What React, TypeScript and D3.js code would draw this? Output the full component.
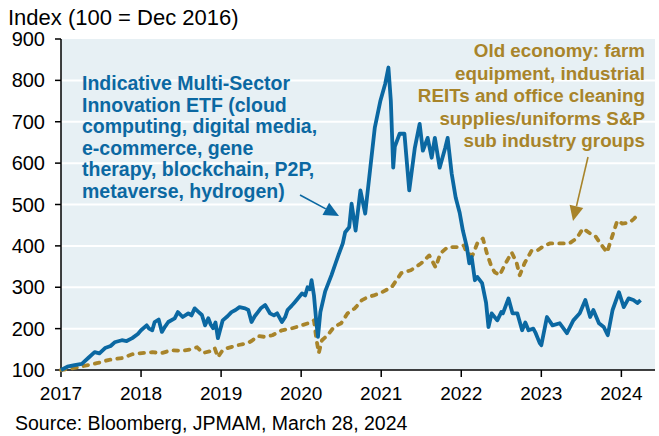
import React from "react";
import * as d3 from "d3";

// ---- data (decimal year, index value) ----
const innovYears = [
  2017.0, 2017.08, 2017.17, 2017.26, 2017.34, 2017.42, 2017.48, 2017.55, 2017.62, 2017.67, 2017.76, 2017.82, 2017.89, 2017.96,
  2018.0, 2018.07, 2018.1, 2018.14, 2018.17, 2018.22, 2018.26, 2018.3, 2018.34, 2018.42, 2018.46, 2018.52, 2018.59, 2018.63,
  2018.67, 2018.72, 2018.76, 2018.8, 2018.84, 2018.87, 2018.9, 2018.93, 2018.96, 2019.02, 2019.08, 2019.13, 2019.18, 2019.23,
  2019.3, 2019.34, 2019.38, 2019.42, 2019.46, 2019.5, 2019.55, 2019.61, 2019.66, 2019.7, 2019.76, 2019.8, 2019.83, 2019.88,
  2019.92, 2020.01, 2020.05, 2020.08, 2020.11, 2020.13, 2020.16, 2020.19, 2020.21, 2020.24, 2020.3, 2020.34, 2020.38, 2020.43,
  2020.47, 2020.52, 2020.55, 2020.6, 2020.63, 2020.68, 2020.74, 2020.8, 2020.86, 2020.92, 2020.99, 2021.05, 2021.09, 2021.12,
  2021.15, 2021.17, 2021.23, 2021.29, 2021.35, 2021.42, 2021.48, 2021.52, 2021.58, 2021.63, 2021.67, 2021.73, 2021.8, 2021.83,
  2021.88, 2021.93, 2021.98, 2022.02, 2022.07, 2022.1, 2022.13, 2022.17, 2022.2, 2022.26, 2022.31, 2022.34, 2022.38, 2022.45,
  2022.5, 2022.52, 2022.59, 2022.64, 2022.7, 2022.76, 2022.8, 2022.84, 2022.9, 2022.93, 2022.98, 2023.0, 2023.07, 2023.14,
  2023.23, 2023.32, 2023.4, 2023.48, 2023.55, 2023.61, 2023.65, 2023.72, 2023.78, 2023.83, 2023.89, 2023.97, 2024.03, 2024.09,
  2024.15, 2024.2, 2024.24,
];
const innovValues = [
  100, 108, 112, 115, 129, 143, 140, 153, 158, 167, 172, 170, 177, 187,
  196, 208, 200, 196, 216, 222, 192, 205, 216, 225, 240, 228, 237, 232,
  249, 240, 233, 208, 225, 210, 201, 215, 177, 220, 230, 240, 245, 252,
  249, 245, 216, 230, 240, 250, 257, 237, 232, 237, 216, 228, 245, 255,
  264, 285, 280, 300, 295, 317, 280, 215, 180, 240, 290, 310, 330, 358,
  380, 406, 433, 445, 502, 437, 534, 478, 582, 686, 751, 792, 831, 751,
  589, 640, 671, 671, 534, 637, 695, 630, 661, 613, 661, 589, 637, 661,
  575, 517, 480, 437, 397, 358, 373, 317, 325, 310, 262, 204, 237, 220,
  240, 237, 273, 237, 237, 196, 215, 196, 200, 189, 165, 160, 228, 208,
  213, 189, 220, 237, 269, 228, 245, 213, 204, 184, 245, 288, 252, 273,
  269, 262, 269,
];

const oldYears = [
  2017.0, 2017.08, 2017.17, 2017.34, 2017.46, 2017.59, 2017.76, 2017.89, 2018.01, 2018.14, 2018.26, 2018.38, 2018.51, 2018.63,
  2018.7, 2018.77, 2018.88, 2018.92, 2018.96, 2019.02, 2019.08, 2019.21, 2019.33, 2019.38, 2019.46, 2019.55, 2019.64, 2019.76,
  2019.89, 2020.01, 2020.13, 2020.16, 2020.19, 2020.22, 2020.26, 2020.33, 2020.41, 2020.5, 2020.58, 2020.67, 2020.76, 2020.83,
  2020.92, 2021.01, 2021.13, 2021.25, 2021.37, 2021.5, 2021.6, 2021.68, 2021.74, 2021.83, 2021.98, 2022.03, 2022.07, 2022.14,
  2022.2, 2022.27, 2022.32, 2022.38, 2022.42, 2022.48, 2022.54, 2022.63, 2022.69, 2022.73, 2022.79, 2022.88, 2022.95, 2023.04,
  2023.11, 2023.23, 2023.35, 2023.44, 2023.52, 2023.61, 2023.67, 2023.73, 2023.82, 2023.88, 2023.95, 2024.01, 2024.1, 2024.16,
  2024.23,
];
const oldValues = [
  100, 102, 105, 112, 117, 124, 129, 138, 141, 143, 141, 148, 146, 150,
  155, 141, 146, 153, 131, 148, 153, 160, 165, 170, 182, 180, 184, 196,
  201, 208, 216, 220, 175, 141, 172, 184, 204, 213, 237, 249, 269, 276,
  281, 288, 300, 334, 341, 358, 377, 348, 382, 397, 397, 401, 382, 377,
  406, 418, 382, 348, 336, 329, 353, 384, 360, 329, 358, 389, 389, 401,
  406, 406, 406, 418, 442, 430, 425, 408, 384, 420, 461, 454, 456, 466,
  481,
];

const yTicks = [100, 200, 300, 400, 500, 600, 700, 800, 900];
const xTicks = [2017, 2018, 2019, 2020, 2021, 2022, 2023, 2024];

const blueLabel = [
  "Indicative Multi-Sector",
  "Innovation ETF (cloud",
  "computing, digital media,",
  "e-commerce, gene",
  "therapy, blockchain, P2P,",
  "metaverse, hydrogen)",
];
const goldLabel = [
  "Old economy: farm",
  "equipment, industrial",
  "REITs and office cleaning",
  "supplies/uniforms S&P",
  "sub industry groups",
];

const BLUE = "#0b68a2";
const GOLD = "#a8842a";
const FONT = "'Liberation Sans', Arial, sans-serif";

export default function App() {
  const W = 659;
  const H = 436;
  const left = 61;
  const right = 655;
  const top = 39;
  const bottom = 370;

  const x = d3.scaleLinear().domain([2017, 2024.42]).range([left, right]);
  const y = d3.scaleLinear().domain([100, 900]).range([bottom, top]);

  const line = d3
    .line<[number, number]>()
    .x((d) => x(d[0]))
    .y((d) => y(d[1]));

  const innov = innovYears.map((t, i) => [t, innovValues[i]] as [number, number]);
  const old = oldYears.map((t, i) => [t, oldValues[i]] as [number, number]);

  const arrow = (x1: number, y1: number, x2: number, y2: number, color: string, hl = 15, hw = 7) => {
    const ang = Math.atan2(y2 - y1, x2 - x1);
    const bx = x2 - hl * Math.cos(ang);
    const by = y2 - hl * Math.sin(ang);
    const px = -Math.sin(ang) * hw;
    const py = Math.cos(ang) * hw;
    return (
      <g>
        <line x1={x1} y1={y1} x2={bx} y2={by} stroke={color} strokeWidth={1.6} />
        <polygon points={`${x2},${y2} ${bx + px},${by + py} ${bx - px},${by - py}`} fill={color} />
      </g>
    );
  };

  return (
    <svg width={W} height={H} style={{ position: "absolute", left: 0, top: 0 }} fontFamily={FONT}>
      <rect x={0} y={0} width={W} height={H} fill="#ffffff" />
      <rect x={left} y={top} width={right - left} height={bottom - top} fill="#e7f0f4" />
      {yTicks
        .filter((v) => v > 100 && v < 900)
        .map((v) => (
          <line key={v} x1={left} x2={right} y1={y(v)} y2={y(v)} stroke="#ffffff" strokeWidth={2} />
        ))}

      {/* axes */}
      <line x1={left} x2={left} y1={top} y2={bottom} stroke="#000" strokeWidth={1.5} />
      <line x1={left} x2={right} y1={bottom} y2={bottom} stroke="#000" strokeWidth={1.5} />
      {yTicks.map((v) => (
        <g key={v}>
          <line x1={left - 6} x2={left} y1={y(v)} y2={y(v)} stroke="#000" strokeWidth={1.5} />
          <text x={left - 16} y={y(v) + 7} fontSize={20} textAnchor="end" fill="#000">
            {v}
          </text>
        </g>
      ))}
      {xTicks.map((t) => (
        <g key={t}>
          <line x1={x(t)} x2={x(t)} y1={bottom} y2={bottom + 7} stroke="#000" strokeWidth={1.5} />
          <text x={x(t)} y={400} fontSize={19} textAnchor="middle" fill="#000">
            {t}
          </text>
        </g>
      ))}

      {/* series */}
      <path
        d={line(old) || ""}
        fill="none"
        stroke={GOLD}
        strokeWidth={3.8}
        strokeDasharray="4.5 7"
        strokeLinecap="round"
        strokeLinejoin="round"
      />
      <path d={line(innov) || ""} fill="none" stroke={BLUE} strokeWidth={3.8} strokeLinejoin="round" />

      {/* annotations */}
      {blueLabel.map((s, i) => (
        <text key={s} x={82} y={90 + i * 21.6} fontSize={19.5} fontWeight="bold" fill={BLUE}>
          {s}
        </text>
      ))}
      {goldLabel.map((s, i) => (
        <text key={s} x={645} y={57 + i * 22.5} fontSize={18.8} fontWeight="bold" fill={GOLD} textAnchor="end">
          {s}
        </text>
      ))}
      {arrow(300, 195, 339, 216, BLUE)}
      {arrow(588, 157, 573, 221, GOLD)}

      <text x={8} y={25} fontSize={22} fill="#000">
        Index (100 = Dec 2016)
      </text>
      <text x={15} y={430} fontSize={19.5} fill="#000">
        Source: Bloomberg, JPMAM, March 28, 2024
      </text>
    </svg>
  );
}
